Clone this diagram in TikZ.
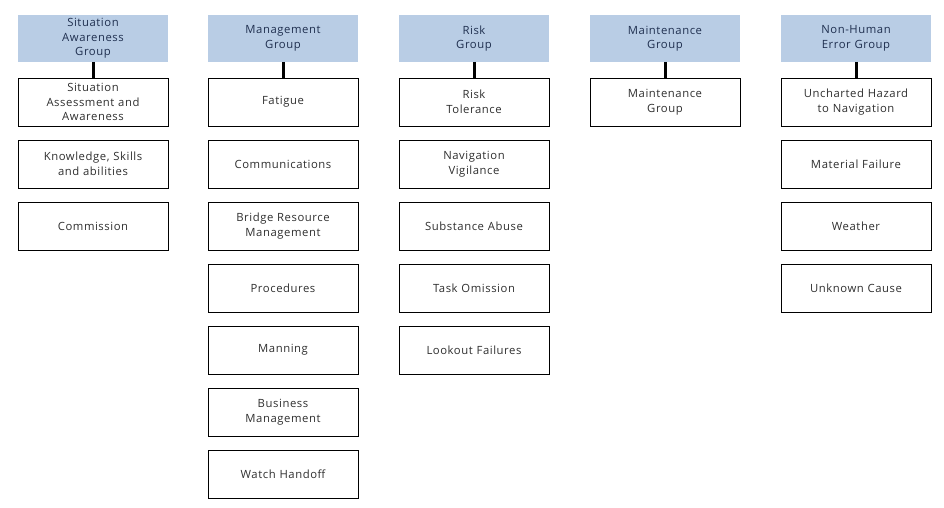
\documentclass[tikz,border=0pt]{standalone}
\usepackage{fontspec}
\setmainfont{Open Sans}[LetterSpace=5]
\usetikzlibrary{positioning}

\definecolor{headfill}{HTML}{B9CDE5}
\definecolor{headtext}{HTML}{1F2F4F}
\definecolor{boxtext}{HTML}{2E2E2E}

\begin{document}
\begin{tikzpicture}[
		x=1pt, y=1pt,
		every node/.style = {
			rectangle, align=center,
			font=\fontsize{11.3}{14.5}\selectfont,
			minimum width=150pt, text width=146pt,
			outer sep=0pt, inner sep=1pt
		},
		group/.style = {fill=headfill, text=headtext, minimum height=47pt},
		cause/.style = {draw, line width=0.8pt, text=boxtext, minimum height=48pt},
		link/.style = {line width=3pt}
		]
		\useasboundingbox (0,0) rectangle (944,-508);

		% group headers
		\node[group] (sa) at (93,-38.5) {Situation\\Awareness\\Group};
		\node[group] (mg) at (283,-38.5) {Management\\Group};
		\node[group] (rk) at (474,-38.5) {Risk\\Group};
		\node[group] (mt) at (665,-38.5) {Maintenance\\Group};
		\node[group] (nh) at (856,-38.5) {Non-Human\\Error Group};

		% situation awareness
		\node[cause, below=16pt of sa] (sa1) {Situation\\Assessment and\\Awareness};
		\node[cause, below=14pt of sa1] (sa2) {Knowledge, Skills\\and abilities};
		\node[cause, below=14pt of sa2] (sa3) {Commission};

		% management
		\node[cause, below=16pt of mg] (mg1) {Fatigue};
		\node[cause, below=14pt of mg1] (mg2) {Communications};
		\node[cause, below=14pt of mg2] (mg3) {Bridge Resource\\Management};
		\node[cause, below=14pt of mg3] (mg4) {Procedures};
		\node[cause, below=14pt of mg4] (mg5) {Manning};
		\node[cause, below=14pt of mg5] (mg6) {Business\\Management};
		\node[cause, below=14pt of mg6] (mg7) {Watch Handoff};

		% risk
		\node[cause, below=16pt of rk] (rk1) {Risk\\Tolerance};
		\node[cause, below=14pt of rk1] (rk2) {Navigation\\Vigilance};
		\node[cause, below=14pt of rk2] (rk3) {Substance Abuse};
		\node[cause, below=14pt of rk3] (rk4) {Task Omission};
		\node[cause, below=14pt of rk4] (rk5) {Lookout Failures};

		% maintenance
		\node[cause, below=16pt of mt] (mt1) {Maintenance\\Group};

		% non-human error
		\node[cause, below=16pt of nh] (nh1) {Uncharted Hazard\\to Navigation};
		\node[cause, below=14pt of nh1] (nh2) {Material Failure};
		\node[cause, below=14pt of nh2] (nh3) {Weather};
		\node[cause, below=14pt of nh3] (nh4) {Unknown Cause};

		\foreach \g in {sa,mg,rk,mt,nh}
			\draw[link] (\g.south) -- (\g1.north);
	\end{tikzpicture}
\end{document}
